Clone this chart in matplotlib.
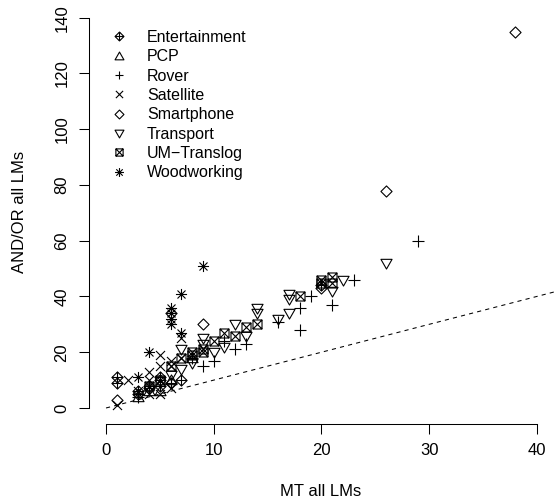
import numpy as np
import matplotlib.pyplot as plt
from matplotlib.path import Path

plt.rcParams['font.family'] = ['Liberation Sans', 'DejaVu Sans']

# MT (x) vs AND/OR (y) per domain
ent_x = [1, 1, 3, 3, 4, 4, 5, 5, 5, 6, 7, 20]
ent_y = [11, 9, 5, 6, 8, 7, 11, 8, 10, 9, 10, 44]
pcp_x = [3, 4, 5, 6, 8]
pcp_y = [4, 6, 6, 10, 18]
rov_x = [29, 23, 21, 19, 18, 18, 16, 13, 12, 11, 9, 10, 8, 3]
rov_y = [60, 46, 37, 40, 36, 28, 31, 23, 21, 24, 15, 17, 18, 4]
sat_x = [1, 2, 3, 4, 4, 4, 5, 5, 5, 6, 6, 6, 7, 7]
sat_y = [1, 10, 6, 13, 5, 10, 19, 15, 5, 17, 15, 7, 18, 25]
smart_x = [38, 26, 9, 1, 20, 6]
smart_y = [135, 78, 30, 3, 43, 34]
trans_x = [26, 22, 21, 17, 17, 17, 16, 14, 14, 12, 13, 11, 10, 9, 9, 8, 7, 7, 6]
trans_y = [52, 46, 42, 41, 39, 34, 32, 36, 34, 30, 26, 22, 20, 25, 23, 16, 21, 14, 12]
um_x = [21, 21, 20, 20, 18, 14, 13, 12, 11, 10, 9, 9, 8, 8, 7, 6, 5, 4]
um_y = [47, 45, 46, 45, 40, 30, 29, 26, 27, 24, 21, 20, 20, 19, 18, 15, 10, 8]
wood_x = [9, 7, 7, 6, 6, 6, 6, 4, 3]
wood_y = [51, 41, 27, 36, 34, 32, 30, 20, 11]

labels = ["Entertainment", "PCP", "Rover", "Satellite", "Smartphone",
          "Transport", "UM\u2212Translog", "Woodworking"]

M, L, C = Path.MOVETO, Path.LINETO, Path.CLOSEPOLY


def mk(verts, codes):
    return Path(verts, codes)


diamond = [(0, 1), (1, 0), (0, -1), (-1, 0), (0, 1)]
p_diamond = mk(diamond, [M, L, L, L, C])
p_dplus = mk(diamond + [(0, 1), (0, -1), (-1, 0), (1, 0)],
             [M, L, L, L, C, M, L, M, L])
p_plus = mk([(0, 1), (0, -1), (-1, 0), (1, 0)], [M, L, M, L])
p_x = mk([(-1, -1), (1, 1), (-1, 1), (1, -1)], [M, L, M, L])
p_tup = mk([(-1, -0.75), (1, -0.75), (0, 1), (-1, -0.75)], [M, L, L, C])
p_tdn = mk([(-1, 0.75), (1, 0.75), (0, -1), (-1, 0.75)], [M, L, L, C])
sq = [(-1, -1), (1, -1), (1, 1), (-1, 1), (-1, -1)]
p_sqx = mk(sq + [(-1, -1), (1, 1), (-1, 1), (1, -1)],
           [M, L, L, L, C, M, L, M, L])
a = 0.72
p_star = mk([(0, 1), (0, -1), (-1, 0), (1, 0), (-a, -a), (a, a), (-a, a), (a, -a)],
            [M, L, M, L, M, L, M, L])

series = [
    (ent_x, ent_y, p_dplus, 8),
    (pcp_x, pcp_y, p_tup, 8),
    (rov_x, rov_y, p_plus, 8),
    (sat_x, sat_y, p_x, 6.5),
    (smart_x, smart_y, p_diamond, 8),
    (trans_x, trans_y, p_tdn, 8),
    (um_x, um_y, p_sqx, 6.5),
    (wood_x, wood_y, p_star, 8),
]

fig = plt.figure(figsize=(5.56, 5.04), dpi=100)
ax = fig.add_axes([0.1597, 0.1595, 0.8367, 0.8365])

for (xs, ys, m, s), lab in zip(series, labels):
    ax.plot(xs, ys, linestyle="none", marker=m, markersize=s,
            markerfacecolor="none", markeredgecolor="black",
            markeredgewidth=0.8, label=lab)

ax.set_xlim(-1.6, 41.6)
ax.set_ylim(-5.6, 145.6)
xmax = ax.get_xlim()[1]
ax.plot([0, xmax], [0, xmax], color="black", lw=0.75, linestyle=(0, (4, 4)))

for side in ["top", "right"]:
    ax.spines[side].set_visible(False)
ax.spines["left"].set_bounds(0, 140)
ax.spines["bottom"].set_bounds(0, 40)
for side in ["left", "bottom"]:
    ax.spines[side].set_linewidth(0.75)
ax.set_xticks([0, 10, 20, 30, 40])
ax.set_yticks(np.arange(0, 141, 20))
ax.tick_params(length=7, width=0.75, labelsize=12, pad=7)
plt.setp(ax.get_yticklabels(), rotation=90, va="center")

fig.text(321 / 556, 1 - 491 / 504, "MT all LMs", ha="center", va="center", fontsize=12)
fig.text(20 / 556, 1 - 212 / 504, "AND/OR all LMs", ha="center", va="center",
         rotation=90, fontsize=12)

ax.legend(loc="upper left", bbox_to_anchor=(111 / 556, 1 - 30 / 504),
          bbox_transform=fig.transFigure, frameon=False, fontsize=11.5,
          handlelength=1.0, handletextpad=1.25, labelspacing=0.27,
          borderpad=0, borderaxespad=0, markerscale=0.8)

fig.savefig("out.png", dpi=100)
